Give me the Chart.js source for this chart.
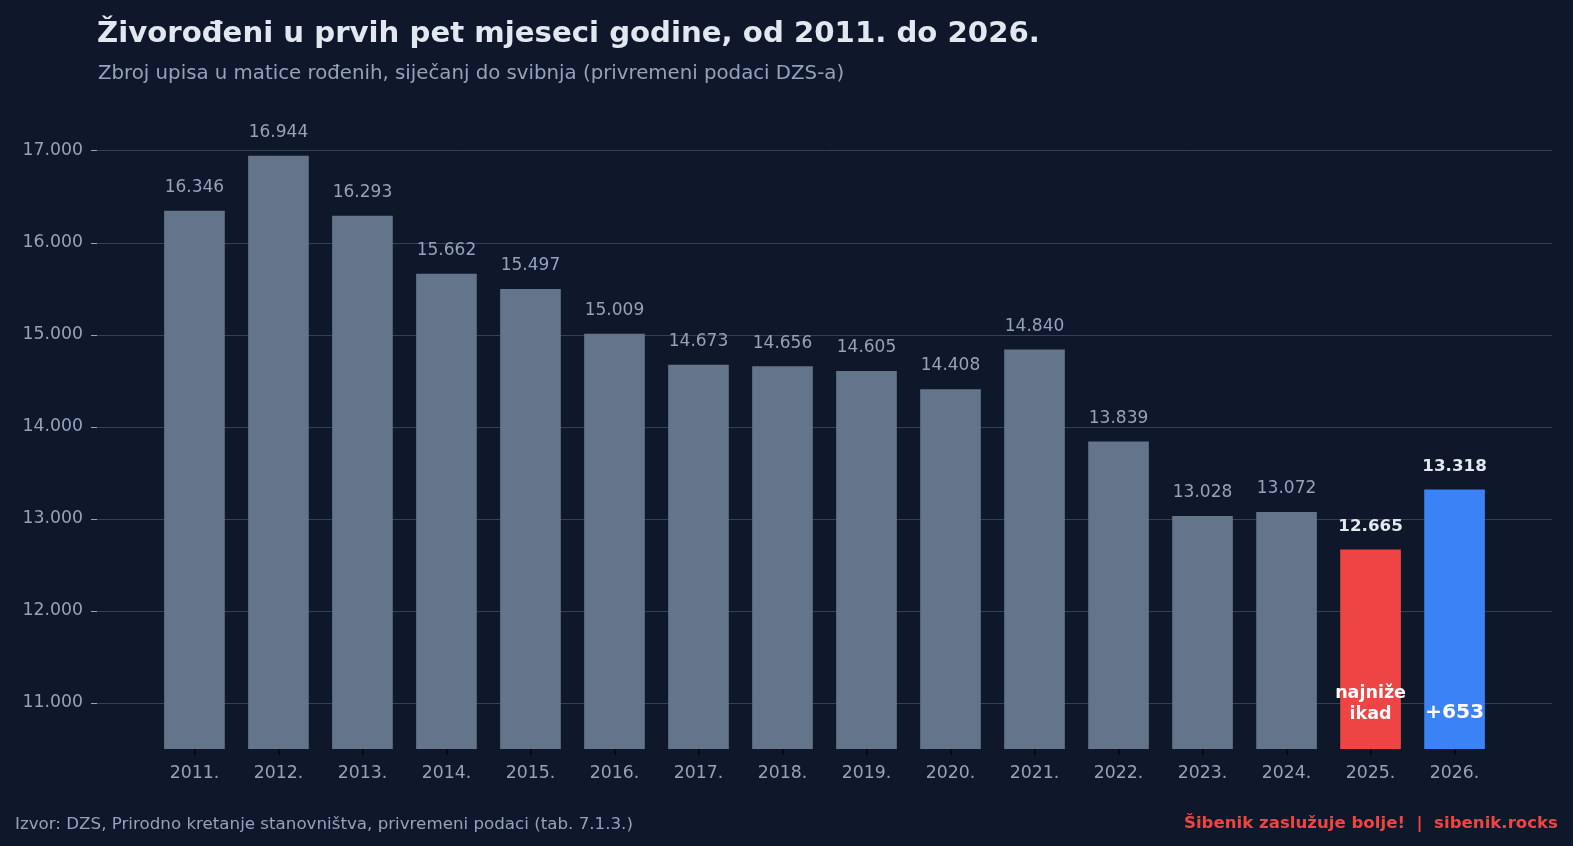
<!DOCTYPE html>
<html>
<head>
<meta charset="utf-8">
<script src="https://cdn.jsdelivr.net/npm/chart.js@4"></script>
<style>
  html, body { margin: 0; padding: 0; background: #0f172a; width: 1573px; height: 846px; overflow: hidden; font-family: 'DejaVu Sans', sans-serif; }
  #wrap { position: absolute; left: 0; top: 0; width: 1573px; height: 846px; }
  .title { position: absolute; left: 97px; top: 15px; font-size: 29.2px; font-weight: bold; color: #e2e8f0; white-space: nowrap; }
  .subtitle { position: absolute; left: 98px; top: 61px; font-size: 19.75px; color: #94a3b8; white-space: nowrap; }
  .source { position: absolute; left: 15px; top: 813px; font-size: 16.7px; color: #94a3b8; white-space: nowrap; }
  .brand { position: absolute; right: 15px; top: 813px; font-size: 16.6px; font-weight: bold; color: #ef4444; white-space: pre; }
</style>
</head>
<body>
<div id="wrap"><canvas id="chart" width="1573" height="846"></canvas></div>
<div class="title">Živorođeni u prvih pet mjeseci godine, od 2011. do 2026.</div>
<div class="subtitle">Zbroj upisa u matice rođenih, siječanj do svibnja (privremeni podaci DZS-a)</div>
<div class="source">Izvor: DZS, Prirodno kretanje stanovništva, privremeni podaci (tab. 7.1.3.)</div>
<div class="brand">Šibenik zaslužuje bolje!  |  sibenik.rocks</div>
<script>
const years = ['2011.', '2012.', '2013.', '2014.', '2015.', '2016.', '2017.', '2018.',
  '2019.', '2020.', '2021.', '2022.', '2023.', '2024.', '2025.', '2026.'];
const births = [16346, 16944, 16293, 15662, 15497, 15009, 14673, 14656,
  14605, 14408, 14840, 13839, 13028, 13072, 12665, 13318];
const yTicks = [11000, 12000, 13000, 14000, 15000, 16000, 17000];
const barColors = ['#64748b', '#64748b', '#64748b', '#64748b', '#64748b', '#64748b', '#64748b', '#64748b',
  '#64748b', '#64748b', '#64748b', '#64748b', '#64748b', '#64748b', '#ef4444', '#3b82f6'];
const highlighted = [14, 15];
const barNotes = { 14: ['najniže', 'ikad'], 15: ['+' + (births[15] - births[14])] };

const FONT = "'DejaVu Sans', sans-serif";
const fmt = v => String(v).replace(/\B(?=(\d{3})+(?!\d))/g, '.');

const valueLabels = {
  id: 'valueLabels',
  afterDatasetsDraw(chart) {
    const ctx = chart.ctx;
    const meta = chart.getDatasetMeta(0);
    const y = chart.scales.y;
    ctx.save();
    ctx.textAlign = 'center';
    meta.data.forEach((bar, i) => {
      const hl = highlighted.includes(i);
      ctx.font = (hl ? 'bold 16.7px ' : '17px ') + FONT;
      ctx.fillStyle = hl ? '#e2e8f0' : '#94a3b8';
      ctx.textBaseline = 'alphabetic';
      ctx.fillText(fmt(births[i]), bar.x, bar.y - 19);
      const note = barNotes[i];
      if (!note) return;
      ctx.fillStyle = '#ffffff';
      ctx.textBaseline = 'middle';
      const base = y.getPixelForValue(11000);
      if (note.length === 2) {
        ctx.font = 'bold 17.5px ' + FONT;
        ctx.fillText(note[0], bar.x, base - 10);
        ctx.fillText(note[1], bar.x, base + 11);
      } else {
        ctx.font = 'bold 20.3px ' + FONT;
        ctx.fillText(note[0], bar.x, base + 10);
      }
    });
    ctx.restore();
  }
};

new Chart(document.getElementById('chart'), {
  type: 'bar',
  data: {
    datasets: [{
      data: births.map((v, i) => ({ x: i, y: v })),
      backgroundColor: barColors,
      borderWidth: 0,
      barThickness: 60
    }]
  },
  options: {
    responsive: false,
    animation: false,
    layout: { padding: { left: 0, top: 105, right: 21, bottom: 57 } },
    plugins: { legend: { display: false }, tooltip: { enabled: false } },
    scales: {
      x: {
        type: 'linear',
        offset: false,
        min: -1.16,
        max: 16.16,
        afterBuildTicks: s => { s.ticks = years.map((_, i) => ({ value: i })); },
        afterFit: s => { s.height = 40; },
        border: { display: false },
        grid: { offset: false, drawOnChartArea: false, tickLength: 6, tickColor: '#000000', lineWidth: 1.5 },
        ticks: {
          color: '#94a3b8', font: { family: FONT, size: 17.3 }, padding: 8,
          maxRotation: 0, autoSkip: false,
          callback: v => years[v]
        }
      },
      y: {
        min: 10500,
        max: 17500,
        afterBuildTicks: s => { s.ticks = yTicks.map(v => ({ value: v })); },
        afterFit: s => { s.width = 97; },
        border: { display: false },
        grid: { color: '#334155', lineWidth: 1, tickLength: 6, tickColor: '#94a3b8' },
        ticks: {
          color: '#94a3b8', font: { family: FONT, size: 17.3 }, padding: 8,
          callback: v => fmt(v)
        }
      }
    }
  },
  plugins: [valueLabels]
});
</script>
</body>
</html>
